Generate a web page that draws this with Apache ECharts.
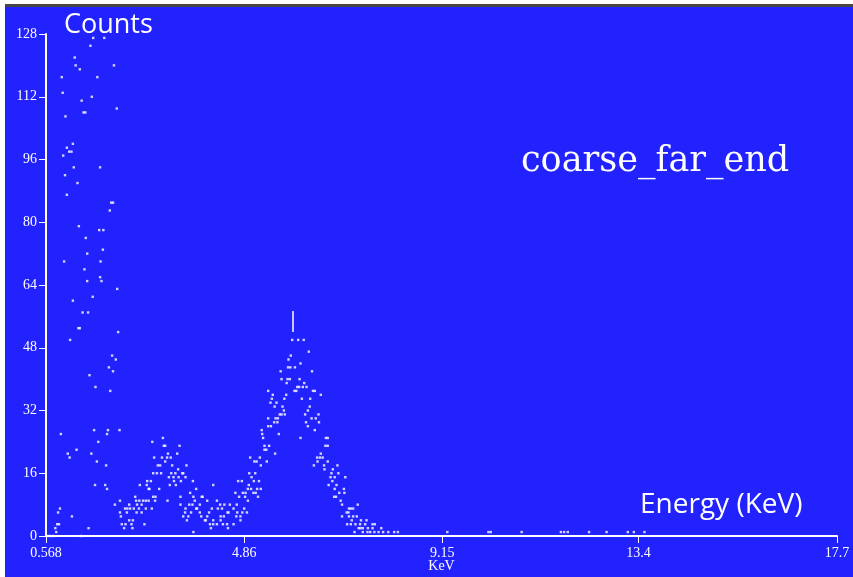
<!DOCTYPE html>
<html>
<head>
<meta charset="utf-8">
<script src="https://cdn.jsdelivr.net/npm/echarts@6/dist/echarts.min.js"></script>
<style>
  body { margin: 0; background: #fff; }
  #chart { position: absolute; left: 0; top: 0; width: 853px; height: 577px; }
  .edge { position: absolute; }
</style>
</head>
<body>
<div id="chart"></div>
<div class="edge" style="left:0;top:0;width:853px;height:4px;background:#fff"></div>
<div class="edge" style="left:0;top:4px;width:853px;height:3px;background:#474747"></div>
<div class="edge" style="left:0;top:0;width:5px;height:577px;background:#fff"></div>
<script>
// spectrum: [energy keV, counts]
const peakLow = [
  [1.59,127],[1.83,127],[1.53,125],[1.19,122],[1.21,120],[2.04,120],[1.30,119],
  [0.91,117],[1.68,117],[0.93,113],[1.56,112],[1.34,111],[2.10,109],[1.38,108],[1.42,108],
  [0.99,107],[1.15,100],[1.02,99],[1.07,98],[1.12,98],[0.94,97],[1.17,94],[1.74,94],
  [0.98,92],[1.25,90],[1.02,87],[1.98,85],[2.02,85],[1.95,83],[1.28,79],[1.72,78],[1.81,78],
  [1.43,76],[1.80,73],[1.46,72],[0.96,70],[1.75,70],[1.40,68],[1.74,66],[1.46,65],[1.77,65],
  [2.11,63],[1.58,61],[1.15,60],[1.36,57],[1.48,57],[1.27,53],[1.30,53],[2.13,52],[1.09,50],
  [2.00,46],[2.08,45],[1.93,43],[2.02,42],[1.51,41],[1.64,38],[1.96,37],
  [1.61,27],[1.91,27],[2.16,27],[0.89,26],[1.89,26],[1.70,24],[1.23,22],[1.04,21],[1.55,21],
  [1.08,20],[1.67,19],[1.87,18],[1.63,13],[1.85,13],[1.89,12],[2.17,9],[2.06,8],[2.37,8],
  [0.87,7],[2.28,7],[2.33,7],[0.83,6],[2.17,6],[2.32,6],[1.13,5],[2.19,5],[2.37,4],
  [0.81,3],[0.85,3],[2.21,3],[2.29,3],[0.77,2],[1.49,2],[2.26,2],[0.79,1],
  [0.59,0],[0.65,0],[0.72,0],[1.32,0]
];
const humpMid = [
  [3.10,25],[2.87,24],[3.12,23],[3.15,23],[3.46,23],[3.21,21],[3.41,21],
  [2.91,20],[3.08,20],[3.19,20],[3.27,20],[3.15,19],[2.99,18],[3.04,18],[3.30,18],[3.61,18],
  [3.43,17],[2.89,16],[2.97,16],[3.06,16],[3.28,16],[3.37,16],[3.52,16],[3.54,16],
  [3.23,15],[3.33,15],[3.44,15],[3.59,15],[2.76,14],[2.84,14],[3.34,14],[3.49,14],[3.75,14],
  [2.60,13],[2.75,13],[3.25,13],[3.38,13],[4.19,13],[2.79,12],[2.81,12],[3.02,12],[3.82,12],
  [3.69,11],[2.50,10],[2.89,10],[2.94,10],[3.48,10],[3.76,10],[3.94,10],[3.96,10],
  [2.52,9],[2.59,9],[2.67,9],[2.73,9],[2.79,9],[2.93,9],[3.20,9],[3.79,9],[4.06,9],[4.27,9],
  [2.54,8],[2.64,8],[3.48,8],[3.67,8],[3.74,8],[3.90,8],[4.34,8],[4.43,8],[4.55,8],[4.70,8],
  [2.39,7],[2.47,7],[2.58,7],[2.73,7],[2.86,7],[3.59,7],[3.82,7],[3.84,7],[4.16,7],[4.29,7],
  [4.38,7],[4.63,7],[4.86,7],
  [2.53,6],[2.64,6],[3.58,6],[3.71,6],[3.90,6],[4.10,6],[4.50,6],[4.52,6],[4.71,6],[4.82,6],[4.92,6],
  [3.54,5],[3.65,5],[3.93,5],[4.06,5],[4.35,5],[4.42,5],[4.69,5],[4.78,5],
  [2.45,4],[3.62,4],[4.01,4],[4.03,4],[4.19,4],[4.35,4],[4.78,4],
  [2.42,3],[2.70,3],[4.12,3],[4.19,3],[4.27,3],[4.40,3],[4.49,3],[4.63,3],
  [2.44,2],[4.14,2],[4.51,2],[3.76,1]
];
const peakMain = [
  [5.90,50],[6.03,50],[6.15,50],[6.26,47],[5.87,46],[5.82,45],[6.08,44],
  [5.81,43],[5.86,43],[5.96,43],[5.65,42],[6.33,42],[5.67,40],[5.80,40],[5.85,40],[6.06,40],
  [5.78,39],[6.16,39],[6.01,38],[6.05,38],[6.13,38],[6.21,38],
  [5.38,37],[5.95,37],[5.99,37],[6.35,37],[6.39,37],[5.48,36],[5.77,36],[6.52,36],
  [5.46,35],[5.73,35],[6.11,35],[6.29,35],[5.43,34],[5.56,34],[5.52,33],[5.69,33],[6.28,33],
  [5.72,32],[6.24,32],[5.63,31],[5.67,31],[5.74,31],[6.18,31],[6.47,31],
  [5.38,30],[5.54,30],[5.59,30],[6.32,30],[6.41,30],[5.51,29],[5.58,29],[6.20,29],[6.48,29],
  [5.38,28],[5.44,28],[6.24,28],[5.24,27],[6.39,27],[5.25,26],[5.61,26],
  [5.27,25],[6.08,25],[6.63,25],[6.67,25],[5.30,23],[5.40,23],[6.62,23],[6.67,23],
  [5.30,22],[5.34,22],[5.53,21],[6.52,21],[4.99,20],[5.20,20],[6.44,20],[6.50,20],[6.56,20],
  [5.08,19],[5.13,19],[5.35,19],[6.45,19],[6.67,19],[5.22,18],[6.37,18],[6.59,18],[6.88,18],
  [6.60,17],[6.78,17],[4.97,16],[5.10,16],[6.75,16],[6.90,16],[5.02,15],[6.73,15],[6.82,15],[7.05,15],
  [4.73,14],[4.81,14],[5.07,14],[5.18,14],[6.77,14],[4.96,13],[6.69,13],[6.86,13],
  [4.94,12],[5.01,12],[5.14,12],[5.22,12],[6.82,12],[7.02,12],
  [4.67,11],[4.83,11],[4.89,11],[5.06,11],[5.11,11],[6.92,11],[7.03,11],
  [4.75,10],[4.88,10],[5.16,10],[6.81,10],[6.85,10],[4.94,9],[6.95,9],[6.98,8],[7.32,8],
  [7.13,7],[7.17,7],[7.22,7],[7.08,6],[7.12,6],[6.98,5],[7.13,5],[7.22,5],[7.30,5],
  [7.19,4],[7.39,4],[7.51,4],[7.09,3],[7.17,3],[7.27,3],[7.37,3],[7.48,3],[7.64,3],[7.69,3],
  [7.34,2],[7.38,2],[7.43,2],[7.54,2],[7.64,2],[7.83,2],
  [7.25,1],[7.43,1],[7.53,1],[7.59,1],[7.68,1],[7.77,1],[7.87,1],[7.98,1],[8.11,1],[8.19,1]
];
const tail = [
  [9.26,1],[10.15,1],[10.20,1],[10.87,1],[11.72,1],[11.79,1],[11.87,1],
  [12.33,1],[12.71,1],[13.17,1],[13.30,1],[13.53,1]
];
// cursor bar over the main peak
const cursorKeV = 5.92;
const cursorCounts = [52, 57.4];

const xTicks = [0.568, 4.86, 9.15, 13.4, 17.7];
const yMax = 128, yStep = 16;

const serif = '"Liberation Serif", "DejaVu Serif", serif';
let myChart = echarts.init(document.getElementById("chart"));
myChart.setOption({
  animation: false,
  backgroundColor: "#2222FF",
  grid: { left: 46, right: 16, top: 34, bottom: 41, containLabel: false, outerBoundsMode: "none" },
  xAxis: {
    type: "value",
    min: xTicks[0],
    max: xTicks[xTicks.length - 1],
    name: "KeV",
    nameLocation: "middle",
    nameGap: 23,
    nameMoveOverlap: false,
    nameTextStyle: { color: "#fff", fontFamily: serif, fontSize: 14 },
    axisLine: { lineStyle: { color: "#fff", width: 2 } },
    axisTick: { length: 7, lineStyle: { color: "#fff", width: 1 }, customValues: xTicks },
    axisLabel: {
      customValues: xTicks,
      formatter: v => String(v),
      color: "#fff", fontFamily: serif, fontSize: 14, margin: 10
    },
    splitLine: { show: false }
  },
  yAxis: {
    type: "value",
    min: 0,
    max: yMax,
    interval: yStep,
    axisLine: { show: true, lineStyle: { color: "#fff", width: 2 } },
    axisTick: { show: true, length: 7, lineStyle: { color: "#fff", width: 1 } },
    axisLabel: { color: "#fff", fontFamily: serif, fontSize: 14, margin: 9 },
    splitLine: { show: false }
  },
  graphic: [
    { type: "text", x: 64, y: 25, style: { text: "Counts", fill: "#fff", font: '27px "Open Sans"', align: "left", verticalAlign: "middle" } },
    { type: "text", x: 640, y: 505, style: { text: "Energy (KeV)", fill: "#fff", font: '28px "Open Sans"', align: "left", verticalAlign: "middle" } },
    { type: "text", x: 521, y: 162, style: { text: "coarse_far_end", fill: "#fff", font: '35px "DejaVu Serif"', align: "left", verticalAlign: "middle" } }
  ],
  series: [
    {
      type: "scatter",
      symbol: "rect",
      symbolSize: 2.4,
      silent: true,
      itemStyle: { color: "#fff" },
      data: [].concat(peakLow, humpMid, peakMain, tail),
      markLine: {
        silent: true,
        symbol: ["none", "none"],
        label: { show: false },
        lineStyle: { color: "#fff", width: 1.5, type: "solid" },
        data: [[{ coord: [cursorKeV, cursorCounts[0]] }, { coord: [cursorKeV, cursorCounts[1]] }]]
      }
    }
  ]
});
</script>
</body>
</html>
